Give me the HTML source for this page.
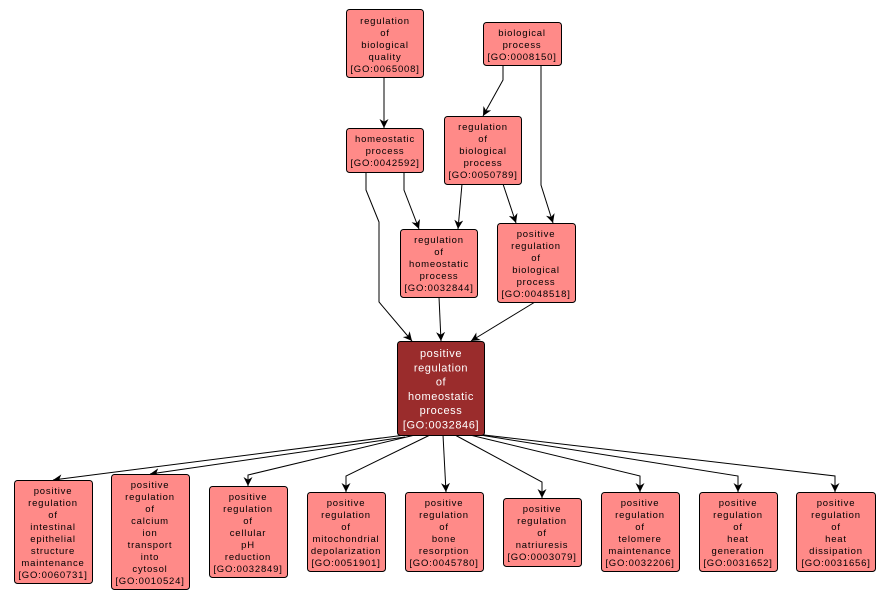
<!DOCTYPE html>
<html><head><meta charset="utf-8"><style>
body{margin:0;background:#fff;}
svg{display:block;font-family:"Liberation Sans",sans-serif;}
</style></head><body>
<svg width="891" height="600" viewBox="0 0 891 600" xmlns="http://www.w3.org/2000/svg">
<defs><marker id="ar" viewBox="0 0 10 10" refX="10" refY="5" markerWidth="9" markerHeight="9" orient="auto" markerUnits="userSpaceOnUse"><path d="M0,0 L10,5 L0,10 L3,5 z" fill="#000"/></marker></defs>
<g fill="none" stroke="#000" stroke-width="1" marker-end="url(#ar)">
<path d="M384,77 L384,128"/>
<path d="M503,65 L503,80 L483,116"/>
<path d="M541,65 L541,185 L553,223"/>
<path d="M404,172 L404,190 L419,229"/>
<path d="M366,172 L366,190 L379,222 L379,302 L412,341"/>
<path d="M462,184 L458,229"/>
<path d="M503,184 L516,223"/>
<path d="M439,297 L441,341"/>
<path d="M535,302 L471,341"/>
<path d="M405,435 L53,480"/>
<path d="M405,437 L150,474"/>
<path d="M415,435 L248,475 L248,486"/>
<path d="M430,435 L346,476 L346,492"/>
<path d="M443,435 L446,492"/>
<path d="M455,435 L542,482 L542,498"/>
<path d="M470,435 L640,476 L640,492"/>
<path d="M480,435 L738,476 L738,492"/>
<path d="M484,435 L835,476 L835,492"/>
</g>
<g stroke="#000" stroke-width="1" fill="#ff8a88">
<rect x="346.5" y="9.5" width="77" height="68" rx="3"/>
<rect x="483.5" y="22.5" width="78" height="43" rx="3"/>
<rect x="346.5" y="128.5" width="77" height="44" rx="3"/>
<rect x="444.5" y="116.5" width="77" height="68" rx="3"/>
<rect x="400.5" y="229.5" width="77" height="68" rx="3"/>
<rect x="497.5" y="223.5" width="78" height="79" rx="3"/>
<rect x="397.5" y="341.5" width="87" height="94" rx="3" fill="#9a2c2c"/>
<rect x="14.5" y="480.5" width="78" height="103" rx="3"/>
<rect x="111.5" y="474.5" width="78" height="115" rx="3"/>
<rect x="209.5" y="486.5" width="78" height="91" rx="3"/>
<rect x="307.5" y="492.5" width="78" height="79" rx="3"/>
<rect x="405.5" y="492.5" width="78" height="79" rx="3"/>
<rect x="503.5" y="498.5" width="78" height="68" rx="3"/>
<rect x="601.5" y="492.5" width="78" height="79" rx="3"/>
<rect x="699.5" y="492.5" width="78" height="79" rx="3"/>
<rect x="796.5" y="492.5" width="79" height="79" rx="3"/>
</g>
<g font-size="9.5" text-anchor="middle" fill="#000" letter-spacing="0.8">
<text x="385" y="24">regulation<tspan x="385" dy="12">of</tspan><tspan x="385" dy="12">biological</tspan><tspan x="385" dy="12">quality</tspan><tspan x="385" dy="12">[GO:0065008]</tspan></text>
<text x="522" y="36">biological<tspan x="522" dy="12">process</tspan><tspan x="522" dy="12">[GO:0008150]</tspan></text>
<text x="385" y="142">homeostatic<tspan x="385" dy="12">process</tspan><tspan x="385" dy="12">[GO:0042592]</tspan></text>
<text x="483" y="130">regulation<tspan x="483" dy="12">of</tspan><tspan x="483" dy="12">biological</tspan><tspan x="483" dy="12">process</tspan><tspan x="483" dy="12">[GO:0050789]</tspan></text>
<text x="439" y="243">regulation<tspan x="439" dy="12">of</tspan><tspan x="439" dy="12">homeostatic</tspan><tspan x="439" dy="12">process</tspan><tspan x="439" dy="12">[GO:0032844]</tspan></text>
<text x="536" y="237">positive<tspan x="536" dy="12">regulation</tspan><tspan x="536" dy="12">of</tspan><tspan x="536" dy="12">biological</tspan><tspan x="536" dy="12">process</tspan><tspan x="536" dy="12">[GO:0048518]</tspan></text>
<text x="441" y="357" font-size="11" fill="#fff" letter-spacing="0.6">positive<tspan x="441" dy="14.3">regulation</tspan><tspan x="441" dy="14.3">of</tspan><tspan x="441" dy="14.3">homeostatic</tspan><tspan x="441" dy="14.3">process</tspan><tspan x="441" dy="14.3">[GO:0032846]</tspan></text>
<text x="53" y="494">positive<tspan x="53" dy="12">regulation</tspan><tspan x="53" dy="12">of</tspan><tspan x="53" dy="12">intestinal</tspan><tspan x="53" dy="12">epithelial</tspan><tspan x="53" dy="12">structure</tspan><tspan x="53" dy="12">maintenance</tspan><tspan x="53" dy="12">[GO:0060731]</tspan></text>
<text x="150" y="488">positive<tspan x="150" dy="12">regulation</tspan><tspan x="150" dy="12">of</tspan><tspan x="150" dy="12">calcium</tspan><tspan x="150" dy="12">ion</tspan><tspan x="150" dy="12">transport</tspan><tspan x="150" dy="12">into</tspan><tspan x="150" dy="12">cytosol</tspan><tspan x="150" dy="12">[GO:0010524]</tspan></text>
<text x="248" y="500">positive<tspan x="248" dy="12">regulation</tspan><tspan x="248" dy="12">of</tspan><tspan x="248" dy="12">cellular</tspan><tspan x="248" dy="12">pH</tspan><tspan x="248" dy="12">reduction</tspan><tspan x="248" dy="12">[GO:0032849]</tspan></text>
<text x="346" y="506">positive<tspan x="346" dy="12">regulation</tspan><tspan x="346" dy="12">of</tspan><tspan x="346" dy="12">mitochondrial</tspan><tspan x="346" dy="12">depolarization</tspan><tspan x="346" dy="12">[GO:0051901]</tspan></text>
<text x="444" y="506">positive<tspan x="444" dy="12">regulation</tspan><tspan x="444" dy="12">of</tspan><tspan x="444" dy="12">bone</tspan><tspan x="444" dy="12">resorption</tspan><tspan x="444" dy="12">[GO:0045780]</tspan></text>
<text x="542" y="512">positive<tspan x="542" dy="12">regulation</tspan><tspan x="542" dy="12">of</tspan><tspan x="542" dy="12">natriuresis</tspan><tspan x="542" dy="12">[GO:0003079]</tspan></text>
<text x="640" y="506">positive<tspan x="640" dy="12">regulation</tspan><tspan x="640" dy="12">of</tspan><tspan x="640" dy="12">telomere</tspan><tspan x="640" dy="12">maintenance</tspan><tspan x="640" dy="12">[GO:0032206]</tspan></text>
<text x="738" y="506">positive<tspan x="738" dy="12">regulation</tspan><tspan x="738" dy="12">of</tspan><tspan x="738" dy="12">heat</tspan><tspan x="738" dy="12">generation</tspan><tspan x="738" dy="12">[GO:0031652]</tspan></text>
<text x="836" y="506">positive<tspan x="836" dy="12">regulation</tspan><tspan x="836" dy="12">of</tspan><tspan x="836" dy="12">heat</tspan><tspan x="836" dy="12">dissipation</tspan><tspan x="836" dy="12">[GO:0031656]</tspan></text>
</g>
</svg>
</body></html>
